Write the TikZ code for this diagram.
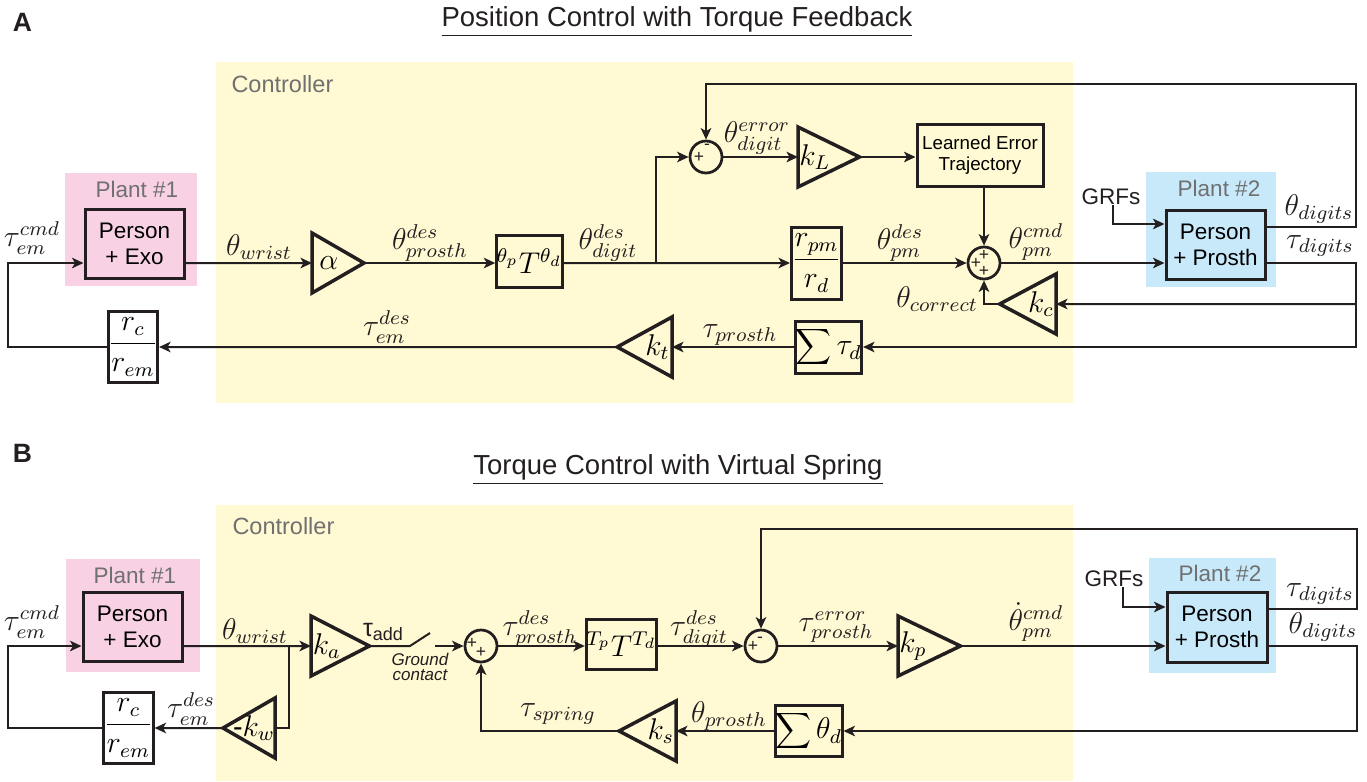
\documentclass[tikz,border=0pt]{standalone}
\usepackage[no-math]{fontspec}
\setmainfont{Liberation Sans}
\usetikzlibrary{arrows.meta,shapes.geometric,calc}
\newdimen\pxu \pxu=0.4pt
\definecolor{ctrlY}{RGB}{255,250,211}
\definecolor{plantP}{RGB}{249,209,228}
\definecolor{plantB}{RGB}{200,233,250}
\definecolor{lineC}{RGB}{35,31,32}
\definecolor{grayT}{RGB}{112,112,112}
\tikzset{
  ln/.style={draw=lineC, line width=0.8pt},
  arr/.style={ln, -{Stealth[length=4.6pt,width=4.2pt,inset=1.2pt]}},
  blk/.style={draw=lineC, line width=1.2pt, inner sep=0pt, align=center, font=\fontsize{9}{10.5}\selectfont},
  gain/.style={isosceles triangle, isosceles triangle stretches, draw=lineC, line width=1.4pt, inner sep=0pt, outer sep=0pt, minimum width=60\pxu, minimum height=52\pxu, font=\fontsize{11.5}{13}\selectfont},
  gainL/.style={gain, shape border rotate=180},
  sumc/.style={circle, draw=lineC, line width=1.1pt, minimum size=32\pxu, inner sep=0pt},
  sgn/.style={font=\fontsize{7}{7}\selectfont, inner sep=0pt, text=lineC},
  lab/.style={font=\fontsize{11.5}{13}\selectfont, inner sep=0pt, text=lineC},
  plantlab/.style={text=grayT, font=\fontsize{9}{10}\selectfont, inner sep=0pt},
  ctrllab/.style={text=grayT, font=\fontsize{9.4}{11}\selectfont, inner sep=0pt, anchor=west},
  ttl/.style={font=\fontsize{11}{13}\selectfont, inner sep=0pt, text=lineC},
  panel/.style={font=\bfseries\fontsize{10.6}{12}\selectfont, inner sep=0pt, text=lineC},
  grf/.style={font=\fontsize{9}{10}\selectfont, inner sep=0pt, text=lineC},
}
\begin{document}
\begin{tikzpicture}[x=0.4pt, y=-0.4pt]
\useasboundingbox (0,0) rectangle (1367,781);
% ---------- backgrounds ----------
\fill[ctrlY] (216,62) rectangle (1073,403);
\fill[plantP] (65,173) rectangle (197,286);
\fill[plantB] (1146,172) rectangle (1276,287);
\fill[ctrlY] (216,505) rectangle (1073,781);
\fill[plantP] (66,559) rectangle (200,672);
\fill[plantB] (1149,558) rectangle (1276,673);
% ---------- titles ----------
\node[panel] (pA) at (22.5,22.5) {A};
\node[ttl] (tA) at (677,22) {\underline{Position Control with Torque Feedback}};
\node[panel] (pB) at (22.5,453) {B};
\node[ttl] (tB) at (678,470) {\underline{Torque Control with Virtual Spring}};
\node[ctrllab] (cA) at (231,84) {Controller};
\node[ctrllab] (cB) at (232,526) {Controller};
\node[plantlab] (p1A) at (137,189) {Plant \#1};
\node[plantlab] (p2A) at (1219,188) {Plant \#2};
\node[plantlab] (p1B) at (135,575) {Plant \#1};
\node[plantlab] (p2B) at (1220,573) {Plant \#2};
% ================= PANEL A =================
\node[blk, minimum width=99\pxu, minimum height=69\pxu] (exoA) at (134.5,243.5) {Person\\+ Exo};
\node[blk, minimum width=48\pxu, minimum height=71\pxu, font=\fontsize{11.5}{13}\selectfont] (rcA) at (133,347) {$\displaystyle\frac{r_c}{r_{em}}$};
\node[gain, anchor=west] (alphaA) at (312,263) {$\alpha$};
\node[blk, minimum width=65\pxu, minimum height=52\pxu, font=\fontsize{11.5}{13}\selectfont] (TA) at (529.5,261) {${}^{\theta_p}T^{\theta_d}$};
\node[blk, minimum width=49\pxu, minimum height=72\pxu, font=\fontsize{11.5}{13}\selectfont] (rpmA) at (816.5,263) {$\displaystyle\frac{r_{pm}}{r_d}$};
\node[sumc] (sum1A) at (706,157) {};
\node[sgn] (s1a) at (699,157) {+};
\node[sgn] (s1b) at (707,147) {-};
\node[gain, anchor=west] (kLA) at (798,157) {$k_L$};
\node[blk, minimum width=126\pxu, minimum height=62\pxu, font=\fontsize{7.5}{8.6}\selectfont] (LEA) at (980,155) {Learned Error\\Trajectory};
\node[sumc] (sum2A) at (984,263) {};
\node[sgn] (s2a) at (984,255) {+};
\node[sgn] (s2b) at (976,263) {+};
\node[sgn] (s2c) at (984,271) {+};
\node[gainL, anchor=east] (kcA) at (1056,304) {$k_c$};
\node[blk, minimum width=99\pxu, minimum height=69\pxu] (prA) at (1215.5,244.5) {Person\\+ Prosth};
\node[blk, minimum width=65\pxu, minimum height=52\pxu, font=\fontsize{11.5}{13}\selectfont] (sigA) at (828.5,347) {$\displaystyle\sum\tau_d$};
\node[gainL, anchor=east] (ktA) at (672,347) {$k_t$};
\node[grf] (grfA) at (1111,197) {GRFs};
% labels A
\node[lab] (l1) at (32,238) {$\tau_{em}^{cmd}$};
\node[lab] (l2) at (259,247) {$\theta_{wrist}$};
\node[lab] (l3) at (430,243) {$\theta_{prosth}^{des}$};
\node[lab] (l4) at (608,243) {$\theta_{digit}^{des}$};
\node[lab] (l5) at (757,138) {$\theta_{digit}^{error}$};
\node[lab] (l6) at (900,243) {$\theta_{pm}^{des}$};
\node[lab] (l7) at (1036,242) {$\theta_{pm}^{cmd}$};
\node[lab] (l8) at (937,299) {$\theta_{correct}$};
\node[lab] (l9) at (740,335) {$\tau_{prosth}$};
\node[lab] (l10) at (387,327) {$\tau_{em}^{des}$};
\node[lab] (l11) at (1319,209) {$\theta_{digits}$};
\node[lab] (l12) at (1320,246) {$\tau_{digits}$};
% connectors A
\coordinate (lA1) at (8,347);
\coordinate (lA2) at (8,263);
\draw[arr] (rcA.west) -- (lA1) -- (lA2) -- (exoA.west |- lA2);
\draw[arr] (exoA.east |- alphaA) -- (alphaA.west);
\draw[arr] (alphaA.east) -- (alphaA.east -| TA.west);
\draw[arr] (TA.east |- alphaA) -- (rpmA.west);
\coordinate (brA) at (656,263);
\draw[arr] (brA) |- (sum1A.west);
\draw[arr] (sum1A.east) -- (kLA.west);
\draw[arr] (kLA.east) -- (kLA.east -| LEA.west);
\draw[arr] (sum2A |- LEA.south) -- (sum2A.north);
\draw[arr] (rpmA.east) -- (sum2A.west);
\draw[arr] (sum2A.east) -- (sum2A.east -| prA.west);
\coordinate (tdA) at (1356,227);
\coordinate (ttA) at (1356,84);
\draw[arr] (prA.east |- tdA) -- (tdA) -- (ttA) -- (sum1A |- ttA) -- (sum1A.north);
\coordinate (rA1) at (1356,263);
\coordinate (rA2) at (1356,347);
\draw[arr] (prA.east |- rA1) -- (rA1) -- (rA2) -- (sigA.east);
\draw[arr] (rA1 |- kcA) -- (kcA.east);
\draw[arr] (kcA.west) -| (sum2A.south);
\draw[arr] (sigA.west) -- (ktA.east);
\draw[arr] (ktA.west) -- (rcA.east);
\draw[arr] ([xshift=2\pxu]grfA.south) |- ([yshift=20.5\pxu]prA.west);
% ================= PANEL B =================
\node[blk, minimum width=99\pxu, minimum height=69\pxu] (exoB) at (132.5,626.5) {Person\\+ Exo};
\node[blk, minimum width=49\pxu, minimum height=71\pxu, font=\fontsize{11.5}{13}\selectfont] (rcB) at (128.5,728) {$\displaystyle\frac{r_c}{r_{em}}$};
\node[gain, anchor=west] (kaB) at (311,646) {$k_a$};
\node[gainL, anchor=east] (kwB) at (275,728) {\makebox[0pt]{-$k_w$\hspace{22\pxu}}};
\node[sumc] (sum3B) at (481,646) {};
\node[sgn] (s3a) at (472,643) {+};
\node[sgn] (s3b) at (481,652) {+};
\node[blk, minimum width=65\pxu, minimum height=50\pxu, font=\fontsize{11.5}{13}\selectfont] (TB) at (621.5,644) {${}^{T_p}T^{T_d}$};
\node[sumc] (sum4B) at (761,646) {};
\node[sgn] (s4a) at (753,646) {+};
\node[sgn] (s4b) at (760,640) {-};
\node[gain, anchor=west] (kpB) at (898,646) {$k_p$};
\node[blk, minimum width=100\pxu, minimum height=70\pxu] (prB) at (1217,627) {Person\\+ Prosth};
\node[blk, minimum width=65\pxu, minimum height=51\pxu, font=\fontsize{11.5}{13}\selectfont] (sigB) at (808.5,731) {$\displaystyle\sum\theta_d$};
\node[gainL, anchor=east] (ksB) at (676,731) {$k_s$};
\node[grf] (grfB) at (1114,579) {GRFs};
% labels B
\node[lab] (m1) at (32,622) {$\tau_{em}^{cmd}$};
\node[lab] (m2) at (255,631) {$\theta_{wrist}$};
\node[lab] (m3) at (191,709) {$\tau_{em}^{des}$};
\node[inner sep=0pt, text=lineC] (m4) at (383,632) {\fontsize{10}{11}\selectfont τ\raisebox{-0.35ex}{\fontsize{7.2}{8}\selectfont add}};
\node[inner sep=0pt, text=lineC, align=center, font=\itshape\fontsize{6.8}{6}\selectfont] (m5) at (420,667) {Ground\\contact};
\node[lab] (m6) at (540,629) {$\tau_{prosth}^{des}$};
\node[lab] (m7) at (699,629) {$\tau_{digit}^{des}$};
\node[lab] (m8) at (836,627) {$\tau_{prosth}^{error}$};
\node[lab] (m9) at (1036,622) {$\dot\theta_{pm}^{cmd}$};
\node[lab] (m10) at (558,714) {$\tau_{spring}$};
\node[lab] (m11) at (729,716) {$\theta_{prosth}$};
\node[lab] (m12) at (1320,594) {$\tau_{digits}$};
\node[lab] (m13) at (1323,627) {$\theta_{digits}$};
% connectors B
\coordinate (lB2) at (8,646);
\draw[arr] (rcB.west) -| (lB2) -- (exoB.west |- lB2);
\draw[arr] (exoB.east |- kaB) -- (kaB.west);
\coordinate (brB) at (289,646);
\draw[ln] (brB) |- (kwB.east);
\draw[arr] (kwB.west) -- (rcB.east);
\coordinate (swA) at (410,646);
\coordinate (swB) at (430,633);
\coordinate (swC) at (435,646);
\draw[ln] (kaB.east) -- (swA) -- (swB);
\draw[arr] (swC) -- (sum3B.west);
\draw[arr] (sum3B.east) -- (sum3B.east -| TB.west);
\draw[arr] (TB.east |- sum3B) -- (sum4B.west);
\draw[arr] (sum4B.east) -- (kpB.west);
\draw[arr] (kpB.east) -- (kpB.east -| prB.west);
\coordinate (tB1) at (1357,609);
\coordinate (tB2) at (1357,529);
\draw[arr] (prB.east |- tB1) -- (tB1) -- (tB2) -- (sum4B |- tB2) -- (sum4B.north);
\coordinate (rB1) at (1357,646);
\coordinate (rB2) at (1357,731);
\draw[arr] (prB.east |- rB1) -- (rB1) -- (rB2) -- (sigB.east);
\draw[arr] (sigB.west) -- (ksB.east);
\draw[arr] (ksB.west) -| (sum3B.south);
\draw[arr] ([xshift=9\pxu]grfB.south) |- ([yshift=20\pxu]prB.west);
\end{tikzpicture}
\end{document}
